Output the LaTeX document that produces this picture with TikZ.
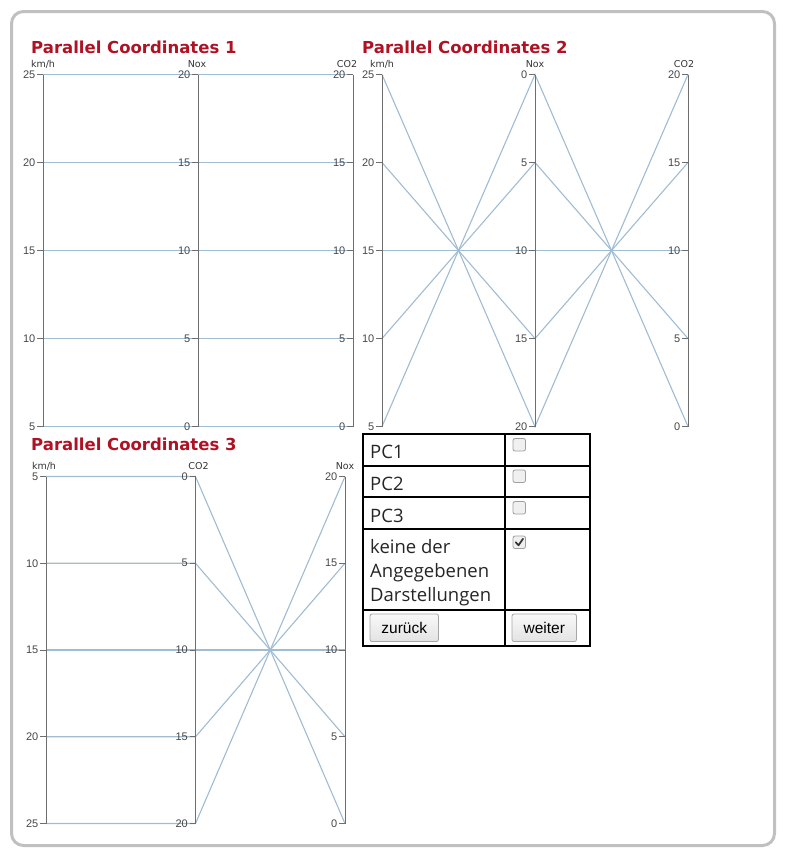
\documentclass[tikz,border=0pt]{standalone}
\usepackage{fontspec}
\newfontfamily\vfont{DejaVu Sans}
\newfontfamily\afont{Liberation Sans}
\newfontfamily\ofont{Open Sans}
\definecolor{titlered}{RGB}{176,18,36}
\definecolor{pcline}{RGB}{160,188,210}
\definecolor{axgray}{RGB}{110,110,110}
\definecolor{ticktext}{RGB}{70,70,70}
\definecolor{framegray}{RGB}{192,192,192}
\newcommand\pcaxis[7]{%
  \draw[axisline] (#2,#3) -- (#2,{#3+4*#4});
  \foreach \v [count=\i from 0] in {#5} {
    \draw[axisline] ({#2-6},{#3+\i*#4}) -- (#2,{#3+\i*#4});
    \node[ticklab] (#1-\i) at ({#2-7.5},{#3+\i*#4}) {\v};
  }
  \node[axname] (#1-name) at ({#2+#7},{#3-10.5}) {#6};
}
\begin{document}
\begin{tikzpicture}[x=1pt,y=-1pt,
  axisline/.style={draw=axgray,line width=0.9pt},
  dataline/.style={draw=pcline,line width=1.1pt},
  ticklab/.style={anchor=east,inner sep=0pt,text=ticktext,font=\afont\fontsize{11}{13}\selectfont},
  axname/.style={inner sep=0pt,text=black!80,font=\vfont\fontsize{9.5}{11}\selectfont},
  pctitle/.style={anchor=base west,inner sep=0pt,text=titlered,font=\vfont\bfseries\fontsize{16.5}{20}\selectfont},
  cell/.style={anchor=base west,inner sep=0pt,text=black!85,font=\ofont\fontsize{18.5}{24}\selectfont},
  tabline/.style={draw=black,line width=2pt},
  chkbox/.style={draw=gray!75,fill=gray!12,rounded corners=2pt,line width=0.8pt},
  button/.style={draw=gray!70,rounded corners=2pt,line width=0.8pt,top color=gray!5,bottom color=gray!22},
  btntext/.style={inner sep=0pt,text=black,font=\afont\fontsize{15.5}{18}\selectfont}
]
\useasboundingbox (0,0) rectangle (788,862);
% outer frame
\draw[draw=framegray,line width=3pt,rounded corners=12pt] (11.5,11.5) rectangle (774.5,845.5);

% titles
\node[pctitle] (t1) at (31,53) {Parallel Coordinates 1};
\node[pctitle] (t2) at (362,53) {Parallel Coordinates 2};
\node[pctitle] (t3) at (31,450) {Parallel Coordinates 3};

% ---------- chart 1 ----------
\foreach \i in {0,...,4} {
  \draw[dataline] (43,{74.5+\i*88}) -- (198,{74.5+\i*88}) -- (353,{74.5+\i*88});
}
\pcaxis{a1}{43}{74.5}{88}{25,20,15,10,5}{km/h}{0}
\pcaxis{b1}{198}{74.5}{88}{20,15,10,5,0}{Nox}{-1}
\pcaxis{c1}{353}{74.5}{88}{20,15,10,5,0}{CO2}{-6}

% ---------- chart 2 ----------
\foreach \i in {0,...,4} {
  \draw[dataline] (382,{74.5+\i*88}) -- (535,{74.5+(4-\i)*88}) -- (688,{74.5+\i*88});
}
\pcaxis{a2}{382}{74.5}{88}{25,20,15,10,5}{km/h}{0}
\pcaxis{b2}{535}{74.5}{88}{0,5,10,15,20}{Nox}{0}
\pcaxis{c2}{688}{74.5}{88}{20,15,10,5,0}{CO2}{-4}

% ---------- chart 3 ----------
\foreach \i in {0,...,4} {
  \draw[dataline] (46,{476.5+\i*86.75}) -- (195.5,{476.5+\i*86.75}) -- (345,{476.5+(4-\i)*86.75});
}
\pcaxis{a3}{46}{476.5}{86.75}{5,10,15,20,25}{km/h}{-2}
\pcaxis{b3}{195.5}{476.5}{86.75}{0,5,10,15,20}{CO2}{3}
\pcaxis{c3}{345}{476.5}{86.75}{20,15,10,5,0}{Nox}{0}

% ---------- table ----------
\draw[tabline] (363,434) rectangle (590,645.5);
\draw[tabline] (504.5,434) -- (504.5,645.5);
\foreach \yy in {465.5,497,528.5,609.5} {
  \draw[tabline] (363,\yy) -- (590,\yy);
}
\node[cell] (pc1) at (370,458) {PC1};
\node[cell] (pc2) at (370,490) {PC2};
\node[cell] (pc3) at (370,522) {PC3};
\node[cell] (k1) at (370,553) {keine der};
\node[cell] (k2) at (370,577) {Angegebenen};
\node[cell] (k3) at (370,601) {Darstellungen};

\draw[chkbox] (513,438.5) rectangle (525.5,451);
\draw[chkbox] (513,470) rectangle (525.5,482.5);
\draw[chkbox] (513,501.5) rectangle (525.5,514);
\draw[chkbox] (513,536) rectangle (525.5,548.5);
\draw[line width=1.7pt,black!80,line cap=round,line join=round] (515.8,542.3) -- (518.5,545.3) -- (523,538.8);

\draw[button] (370,614) rectangle (438.5,641.5);
\node[btntext] (zur) at (404.25,627.5) {zurück};
\draw[button] (512,614) rectangle (576.5,641.5);
\node[btntext] (wei) at (544.25,627.5) {weiter};
\end{tikzpicture}
\end{document}
